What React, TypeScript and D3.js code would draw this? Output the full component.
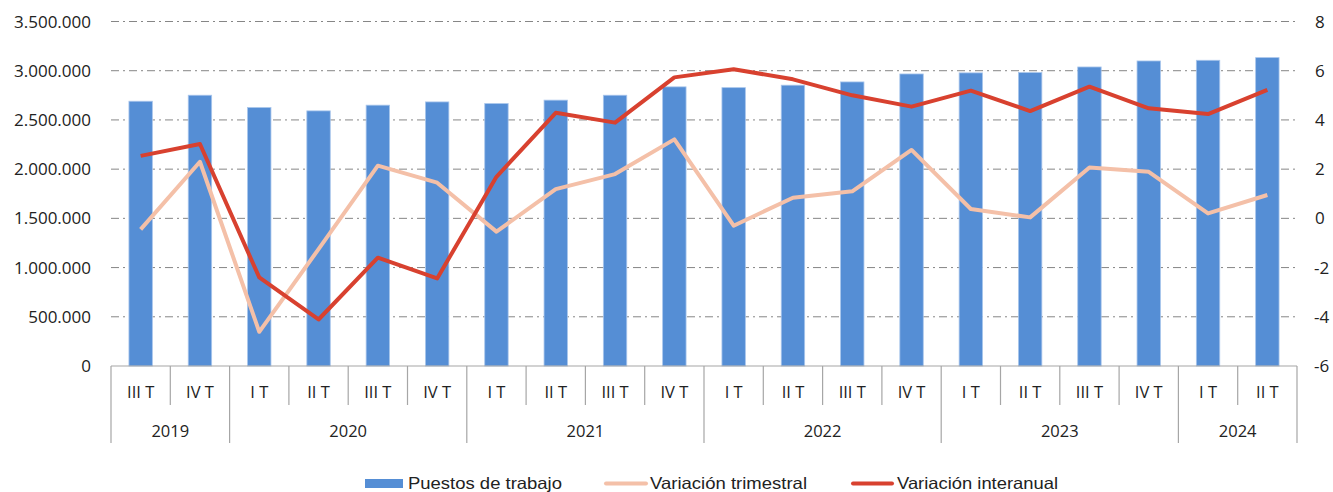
import * as d3 from "d3";

const quarters = [
  "III T", "IV T",
  "I T", "II T", "III T", "IV T",
  "I T", "II T", "III T", "IV T",
  "I T", "II T", "III T", "IV T",
  "I T", "II T", "III T", "IV T",
  "I T", "II T",
];
const years = ["2019", "2020", "2021", "2022", "2023", "2024"];
const quartersPerYear = [2, 4, 4, 4, 4, 2];

const puestos = [
  2690000, 2751000, 2626000, 2592000, 2650000, 2683000, 2666000, 2701000,
  2751000, 2836000, 2828000, 2853000, 2886000, 2967000, 2978000, 2981000,
  3038000, 3099000, 3106000, 3133000,
];
const trimestral = [
  -0.45, 2.3, -4.61, -1.25, 2.14, 1.45, -0.54, 1.19, 1.8, 3.21, -0.3, 0.84,
  1.1, 2.78, 0.38, 0.04, 2.07, 1.89, 0.2, 0.95,
];
const interanual = [
  2.54, 3.02, -2.4, -4.11, -1.6, -2.44, 1.69, 4.29, 3.89, 5.73, 6.06, 5.65,
  5.0, 4.54, 5.19, 4.36, 5.35, 4.47, 4.24, 5.22,
];

const leftTicks = [0, 500000, 1000000, 1500000, 2000000, 2500000, 3000000, 3500000];
const rightTicks = [-6, -4, -2, 0, 2, 4, 6, 8];

const W = 1333;
const H = 492;
const M = { left: 111, right: 1297, top: 21.5, bottom: 366 };

const BAR = "#558ED5";
const TRIM = "#F4C0A8";
const INTER = "#D8412F";
const AXIS = "#A6A6A6";
const FONT = "'Open Sans', 'Noto Sans', sans-serif";
const LEGEND_FONT = "'Liberation Sans', Arial, sans-serif";

const fmt = (v: number) =>
  v === 0 ? "0" : d3.format(",")(v).replace(/,/g, ".");

export default function App() {
  const idx = quarters.map((_, i) => String(i));
  const x = d3.scaleBand().domain(idx).range([M.left, M.right]).padding(0);
  const yL = d3.scaleLinear().domain([0, 3500000]).range([M.bottom, M.top]);
  const yR = d3.scaleLinear().domain([-6, 8]).range([M.bottom, M.top]);
  const bw = x.bandwidth();
  const barW = bw * 0.395;
  const cx = (i: number) => (x(String(i)) as number) + bw / 2;

  const line = (vals: number[]) =>
    d3
      .line<number>()
      .x((_, i) => cx(i))
      .y((d) => yR(d))(vals) as string;

  // first quarter index of each year
  const yearStarts: number[] = [];
  let acc = 0;
  quartersPerYear.forEach((n) => {
    yearStarts.push(acc);
    acc += n;
  });

  return (
    <svg
      width={W}
      height={H}
      style={{ position: "absolute", left: 0, top: 0, background: "#fff" }}
    >
      {/* gridlines */}
      {leftTicks.slice(1).map((t) => (
        <line
          key={t}
          x1={M.left}
          x2={M.right}
          y1={yL(t)}
          y2={yL(t)}
          stroke="#868686"
          strokeWidth={1}
          strokeDasharray="8,4,2,4"
        />
      ))}

      {/* bars */}
      {puestos.map((v, i) => (
        <rect
          key={i}
          x={cx(i) - barW / 2}
          y={yL(v)}
          width={barW}
          height={yL(0) - yL(v)}
          fill={BAR}
          stroke="#A9C6EC"
          strokeWidth={0.8}
        />
      ))}

      {/* lines */}
      <path d={line(trimestral)} fill="none" stroke={TRIM} strokeWidth={4} strokeLinejoin="round" />
      <path d={line(interanual)} fill="none" stroke={INTER} strokeWidth={4} strokeLinejoin="round" />

      {/* x axis */}
      <line x1={M.left} x2={M.right} y1={M.bottom} y2={M.bottom} stroke={AXIS} strokeWidth={1.2} />
      {idx.map((d, i) => {
        const isYear = yearStarts.includes(i);
        const xx = x(d) as number;
        return (
          <line
            key={"s" + i}
            x1={xx}
            x2={xx}
            y1={M.bottom}
            y2={isYear ? 443 : 405}
            stroke={AXIS}
            strokeWidth={1.2}
          />
        );
      })}
      <line x1={M.right} x2={M.right} y1={M.bottom} y2={443} stroke={AXIS} strokeWidth={1.2} />

      {quarters.map((q, i) => (
        <text
          key={"q" + i}
          x={cx(i)}
          y={398}
          textAnchor="middle"
          fontFamily={FONT}
          fontSize={16.5}
          fill="#222"
        >
          {q}
        </text>
      ))}
      {years.map((yr, k) => {
        const s = yearStarts[k];
        const e = s + quartersPerYear[k] - 1;
        const mid = ((x(String(s)) as number) + (x(String(e)) as number) + bw) / 2;
        return (
          <text
            key={yr}
            x={mid}
            y={437}
            textAnchor="middle"
            fontFamily={FONT}
            fontSize={16.5}
            fill="#222"
          >
            {yr}
          </text>
        );
      })}

      {/* left ticks */}
      {leftTicks.map((t) => (
        <text
          key={"l" + t}
          x={91}
          y={yL(t) + 6}
          textAnchor="end"
          fontFamily={FONT}
          fontSize={17}
          fill="#222"
        >
          {fmt(t)}
        </text>
      ))}
      {/* right ticks */}
      {rightTicks.map((t) => (
        <text
          key={"r" + t}
          x={t < 0 ? 1314 : 1315}
          y={yR(t) + 6}
          textAnchor="start"
          fontFamily={FONT}
          fontSize={17}
          fill="#222"
        >
          {t}
        </text>
      ))}

      {/* legend */}
      <rect x={365} y={479} width={38} height={9} fill={BAR} />
      <text x={408} y={489} fontFamily={LEGEND_FONT} fontSize={16.5} textLength={154} lengthAdjust="spacingAndGlyphs" fill="#222">
        Puestos de trabajo
      </text>
      <line x1={606} x2={646} y1={483.5} y2={483.5} stroke={TRIM} strokeWidth={4} strokeLinecap="round" />
      <text x={650} y={489} fontFamily={LEGEND_FONT} fontSize={16.5} textLength={157} lengthAdjust="spacingAndGlyphs" fill="#222">
        Variación trimestral
      </text>
      <line x1={853} x2={892} y1={483.5} y2={483.5} stroke={INTER} strokeWidth={4} strokeLinecap="round" />
      <text x={897} y={489} fontFamily={LEGEND_FONT} fontSize={16.5} textLength={161} lengthAdjust="spacingAndGlyphs" fill="#222">
        Variación interanual
      </text>
    </svg>
  );
}
